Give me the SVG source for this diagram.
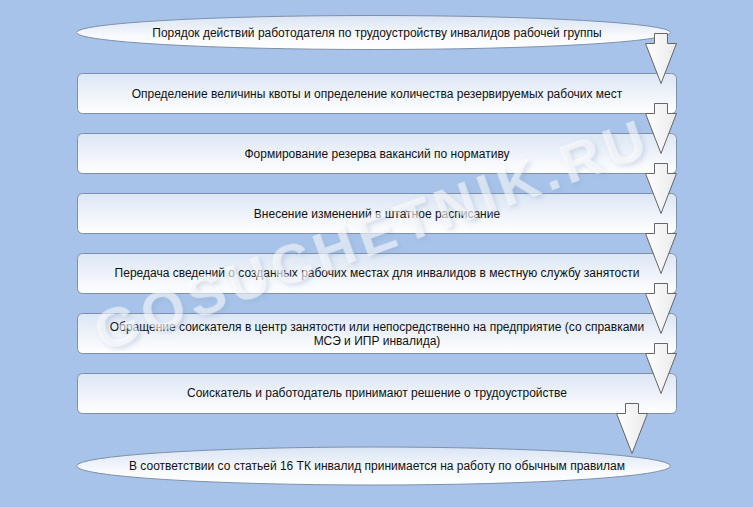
<svg xmlns="http://www.w3.org/2000/svg" width="753" height="507" viewBox="0 0 753 507">
<defs>
<linearGradient id="boxGrad" x1="0" y1="0" x2="0" y2="1">
<stop offset="0" stop-color="#dce6f5"/>
<stop offset="1" stop-color="#ffffff"/>
</linearGradient>
<linearGradient id="ellGrad" x1="0" y1="0" x2="0" y2="1">
<stop offset="0" stop-color="#d9e4f4"/>
<stop offset="0.6" stop-color="#f7f9fd"/>
<stop offset="1" stop-color="#ffffff"/>
</linearGradient>
<linearGradient id="arrGrad" x1="0" y1="0" x2="1" y2="0">
<stop offset="0" stop-color="#ffffff"/>
<stop offset="1" stop-color="#e9e9e9"/>
</linearGradient>
<filter id="wmShadow" x="-10%" y="-30%" width="120%" height="160%">
<feGaussianBlur in="SourceAlpha" stdDeviation="2.5"/>
<feOffset dx="2" dy="3" result="b"/>
<feFlood flood-color="#8aa3c4" flood-opacity="0.6"/>
<feComposite in2="b" operator="in"/>
<feMerge><feMergeNode/><feMergeNode in="SourceGraphic"/></feMerge>
</filter>
</defs>
<style>
.box{fill:url(#boxGrad);stroke:#7f90aa;stroke-width:1}
.ell{fill:url(#ellGrad);stroke:#7f90aa;stroke-width:1}
.lbl{font-family:"Liberation Sans",Arial,sans-serif;font-size:12px;fill:#111;text-anchor:middle}
.arr{fill:url(#arrGrad);stroke:#666;stroke-width:1;stroke-linejoin:miter}
.wm{font-family:"Liberation Sans",Arial,sans-serif;font-weight:bold;font-size:56px;fill:#ffffff;fill-opacity:0.55}
</style>
<rect x="0" y="0" width="753" height="507" fill="#a7c3e9"/>

<g id="n0"><ellipse class="ell" cx="373.5" cy="32.5" rx="297" ry="17"/><text class="lbl" x="377" y="36.5">Порядок действий работодателя по трудоустройству инвалидов рабочей группы</text></g>
<g id="n1"><rect class="box" x="77.5" y="73.5" width="599" height="40" rx="5"/><text class="lbl" x="377" y="98">Определение величины квоты и определение количества резервируемых рабочих мест</text></g>
<g id="n2"><rect class="box" x="77.5" y="133.5" width="599" height="40" rx="5"/><text class="lbl" x="377" y="158">Формирование резерва вакансий по нормативу</text></g>
<g id="n3"><rect class="box" x="77.5" y="193.5" width="599" height="40" rx="5"/><text class="lbl" x="377" y="218">Внесение изменений в штатное расписание</text></g>
<g id="n4"><rect class="box" x="77.5" y="253.5" width="599" height="40" rx="5"/><text class="lbl" x="377" y="277">Передача сведений о созданных рабочих местах для инвалидов в местную службу занятости</text></g>
<g id="n5"><rect class="box" x="77.5" y="313.5" width="599" height="40" rx="5"/><text class="lbl" x="377" y="331">Обращение соискателя в центр занятости или непосредственно на предприятие (со справками</text><text class="lbl" x="377" y="345">МСЭ и ИПР инвалида)</text></g>
<g id="n6"><rect class="box" x="77.5" y="373.5" width="599" height="40" rx="5"/><text class="lbl" x="377" y="397">Соискатель и работодатель принимают решение о трудоустройстве</text></g>
<g id="n7"><ellipse class="ell" cx="373.5" cy="466" rx="297" ry="19"/><text class="lbl" x="377" y="470">В соответствии со статьей 16 ТК инвалид принимается на работу по обычным правилам</text></g>

<g id="connectors">
<path class="arr" d="M654.5,33.5 H667.5 V43.5 H676.5 L661,83.5 L645.5,43.5 H654.5 Z"/>
<path class="arr" d="M654.5,103.5 H667.5 V113.5 H676.5 L661,153.5 L645.5,113.5 H654.5 Z"/>
<path class="arr" d="M654.5,163.5 H667.5 V173.5 H676.5 L661,213.5 L645.5,173.5 H654.5 Z"/>
<path class="arr" d="M654.5,223.5 H667.5 V233.5 H676.5 L661,273.5 L645.5,233.5 H654.5 Z"/>
<path class="arr" d="M654.5,283.5 H667.5 V293.5 H676.5 L661,333.5 L645.5,293.5 H654.5 Z"/>
<path class="arr" d="M654.5,343.5 H667.5 V353.5 H676.5 L661,393.5 L645.5,353.5 H654.5 Z"/>
<path class="arr" d="M625.5,403.5 H638.5 V413.5 H647.5 L632,453.5 L616.5,413.5 H625.5 Z"/>
</g>

<text class="wm" x="103" y="352" transform="rotate(-19.8 103 352)" textLength="581" lengthAdjust="spacing" filter="url(#wmShadow)">GOSUCHETNIK.RU</text>
</svg>
